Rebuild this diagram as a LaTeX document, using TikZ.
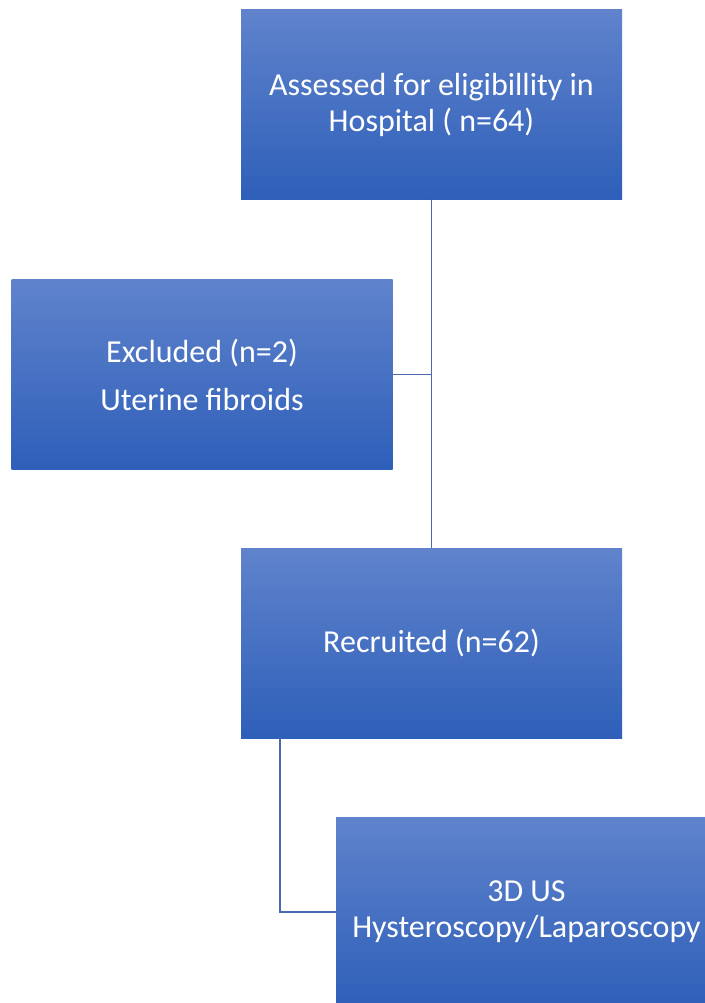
\documentclass[tikz,border=0pt]{standalone}
\usepackage{fontspec}
\setmainfont{Carlito}
\definecolor{box top}{HTML}{6083CC}
\definecolor{box bottom}{HTML}{2E5FB9}
\definecolor{link}{HTML}{4A6AAF}
\tikzset{stage/.style={top color=box top, bottom color=box bottom, text=white,
      minimum width=285.75pt, minimum height=142.5pt, align=center, inner sep=0pt,
      font=\fontsize{24}{27}\selectfont},
    link/.style={draw=link, line width=1pt}}

\begin{document}
\begin{tikzpicture}[x=0.75pt,y=-0.75pt]
    \clip (0,0) rectangle (705,1003);
    \node[stage] (assessed) at (431.5,104.5) {Assessed for eligibillity in\\Hospital ( n=64)};
    \node[stage] (excluded) at (202,374.5) {Excluded (n=2)\\[9pt]Uterine fibroids};
    \node[stage] (recruited) at (431.5,643) {Recruited (n=62)};
    \node[stage] (imaging) at (526.5,912) {3D US\\Hysteroscopy/Laparoscopy};
    \coordinate (tap) at (280,738);
    \draw[link] (assessed) -- (recruited);
    \draw[link] (excluded.east) -- (excluded.east -| assessed.south);
    \draw[link] (tap) |- (imaging.west);
  \end{tikzpicture}
\end{document}
